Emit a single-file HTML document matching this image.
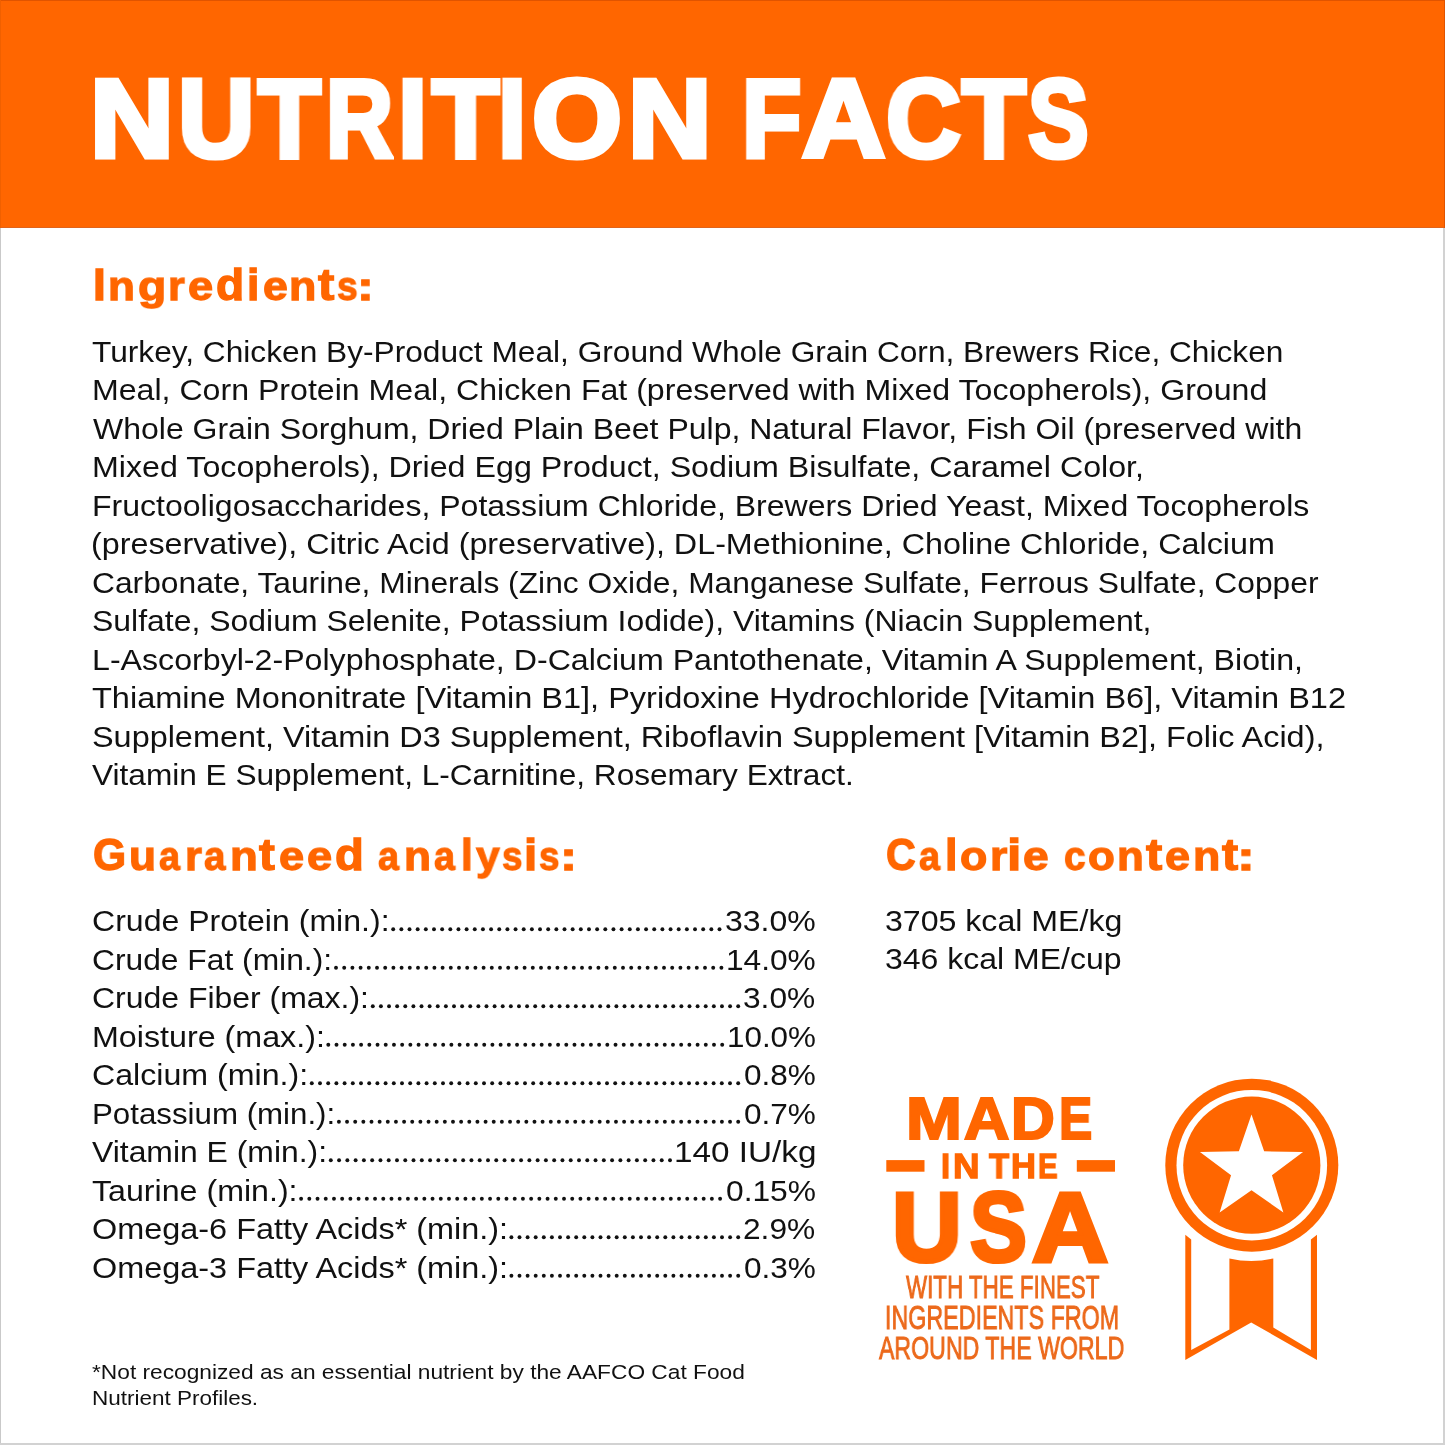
<!DOCTYPE html>
<html><head><meta charset="utf-8"><title>Nutrition Facts</title>
<style>
html,body{margin:0;padding:0;background:#fff}
body{width:1445px;height:1445px;position:relative;overflow:hidden;font-family:"Liberation Sans",sans-serif}
.banner{position:absolute;left:0;top:0;width:1445px;height:228px;background:#ff6600}
.t{position:absolute;white-space:nowrap;line-height:1;transform-origin:0 0;will-change:transform}
.ov{position:absolute;left:0;top:0}
.bl{position:absolute;left:0;top:228px;width:1px;height:1217px;background:#c9c9c9}
.br{position:absolute;right:0;top:228px;width:2px;height:1217px;background:#d2d2d2}
.bb{position:absolute;left:0;bottom:0;width:1445px;height:2px;background:#d2d2d2}
.bt{position:absolute;left:0;top:0;width:1445px;height:1px;background:#e05400}
.bro{position:absolute;right:0;top:0;width:1px;height:228px;background:#e05400}
.bbo{position:absolute;left:0;top:227px;width:1445px;height:1px;background:#e0641c}
.blo{position:absolute;left:0;top:0;width:1px;height:228px;background:#f06000}
</style></head><body>
<div class="banner"></div>
<div class="bt"></div><div class="bbo"></div><div class="bro"></div><div class="blo"></div>
<div class="t" style="left:89.86px;top:64.40px;font-size:111px;font-weight:700;color:#ffffff;-webkit-text-stroke:5.2px #ffffff;transform:scale(1.0459,1);">N</div>
<div class="t" style="left:178.00px;top:64.40px;font-size:111px;font-weight:700;color:#ffffff;-webkit-text-stroke:5.2px #ffffff;transform:scale(0.9539,1);">U</div>
<div class="t" style="left:258.45px;top:64.40px;font-size:111px;font-weight:700;color:#ffffff;-webkit-text-stroke:5.2px #ffffff;transform:scale(0.9255,1);">T</div>
<div class="t" style="left:325.67px;top:64.40px;font-size:111px;font-weight:700;color:#ffffff;-webkit-text-stroke:5.2px #ffffff;transform:scale(0.8362,1);">R</div>
<div class="t" style="left:398.45px;top:64.40px;font-size:111px;font-weight:700;color:#ffffff;-webkit-text-stroke:5.2px #ffffff;transform:scale(0.9443,1);">I</div>
<div class="t" style="left:431.53px;top:64.40px;font-size:111px;font-weight:700;color:#ffffff;-webkit-text-stroke:5.2px #ffffff;transform:scale(0.9893,1);">T</div>
<div class="t" style="left:498.31px;top:64.40px;font-size:111px;font-weight:700;color:#ffffff;-webkit-text-stroke:5.2px #ffffff;transform:scale(0.9112,1);">I</div>
<div class="t" style="left:532.41px;top:64.40px;font-size:111px;font-weight:700;color:#ffffff;-webkit-text-stroke:5.2px #ffffff;transform:scale(1.0432,1);">O</div>
<div class="t" style="left:627.78px;top:64.40px;font-size:111px;font-weight:700;color:#ffffff;-webkit-text-stroke:5.2px #ffffff;transform:scale(1.0417,1);">N</div>
<div class="t" style="left:742.38px;top:64.40px;font-size:111px;font-weight:700;color:#ffffff;-webkit-text-stroke:5.2px #ffffff;transform:scale(0.8747,1);">F</div>
<div class="t" style="left:802.48px;top:64.40px;font-size:111px;font-weight:700;color:#ffffff;-webkit-text-stroke:5.2px #ffffff;transform:scale(1.0370,1);">A</div>
<div class="t" style="left:885.63px;top:64.40px;font-size:111px;font-weight:700;color:#ffffff;-webkit-text-stroke:5.2px #ffffff;transform:scale(0.9328,1);">C</div>
<div class="t" style="left:961.77px;top:64.40px;font-size:111px;font-weight:700;color:#ffffff;-webkit-text-stroke:5.2px #ffffff;transform:scale(0.9425,1);">T</div>
<div class="t" style="left:1028.09px;top:64.40px;font-size:111px;font-weight:700;color:#ffffff;-webkit-text-stroke:5.2px #ffffff;transform:scale(0.8179,1);">S</div>
<div class="t" style="left:92.81px;top:263.05px;font-size:44px;font-weight:700;color:#ff6600;-webkit-text-stroke:1.3px #ff6600;transform:scale(1.0456,1);">I</div>
<div class="t" style="left:108.32px;top:263.05px;font-size:44px;font-weight:700;color:#ff6600;-webkit-text-stroke:1.3px #ff6600;transform:scale(0.9985,0.91);transform-origin:0 37.00px;">n</div>
<div class="t" style="left:137.97px;top:263.05px;font-size:44px;font-weight:700;color:#ff6600;-webkit-text-stroke:1.3px #ff6600;transform:scale(1.0520,0.91);transform-origin:0 37.00px;">g</div>
<div class="t" style="left:168.07px;top:263.05px;font-size:44px;font-weight:700;color:#ff6600;-webkit-text-stroke:1.3px #ff6600;transform:scale(0.9787,0.91);transform-origin:0 37.00px;">r</div>
<div class="t" style="left:187.68px;top:263.05px;font-size:44px;font-weight:700;color:#ff6600;-webkit-text-stroke:1.3px #ff6600;transform:scale(1.0271,0.91);transform-origin:0 37.00px;">e</div>
<div class="t" style="left:215.66px;top:263.05px;font-size:44px;font-weight:700;color:#ff6600;-webkit-text-stroke:1.3px #ff6600;transform:scale(1.0468,1);">d</div>
<div class="t" style="left:246.94px;top:263.05px;font-size:44px;font-weight:700;color:#ff6600;-webkit-text-stroke:1.3px #ff6600;transform:scale(1.0102,1);">i</div>
<div class="t" style="left:262.59px;top:263.05px;font-size:44px;font-weight:700;color:#ff6600;-webkit-text-stroke:1.3px #ff6600;transform:scale(1.0138,0.91);transform-origin:0 37.00px;">e</div>
<div class="t" style="left:289.28px;top:263.05px;font-size:44px;font-weight:700;color:#ff6600;-webkit-text-stroke:1.3px #ff6600;transform:scale(1.0163,0.91);transform-origin:0 37.00px;">n</div>
<div class="t" style="left:318.04px;top:263.05px;font-size:44px;font-weight:700;color:#ff6600;-webkit-text-stroke:1.3px #ff6600;transform:scale(1.1151,1);">t</div>
<div class="t" style="left:336.57px;top:263.05px;font-size:44px;font-weight:700;color:#ff6600;-webkit-text-stroke:1.3px #ff6600;transform:scale(0.8435,0.91);transform-origin:0 37.00px;">s</div>
<div class="t" style="left:357.18px;top:263.05px;font-size:44px;font-weight:700;color:#ff6600;-webkit-text-stroke:1.3px #ff6600;transform:scale(1.1494,0.91);transform-origin:0 37.00px;">:</div>
<div class="t" style="left:93.08px;top:833.05px;font-size:44px;font-weight:700;color:#ff6600;-webkit-text-stroke:1.3px #ff6600;transform:scale(0.9650,1);">G</div>
<div class="t" style="left:128.52px;top:833.05px;font-size:44px;font-weight:700;color:#ff6600;-webkit-text-stroke:1.3px #ff6600;transform:scale(1.0045,0.91);transform-origin:0 37.00px;">u</div>
<div class="t" style="left:159.11px;top:833.05px;font-size:44px;font-weight:700;color:#ff6600;-webkit-text-stroke:1.3px #ff6600;transform:scale(0.8545,0.91);transform-origin:0 37.00px;">a</div>
<div class="t" style="left:184.55px;top:833.05px;font-size:44px;font-weight:700;color:#ff6600;-webkit-text-stroke:1.3px #ff6600;transform:scale(0.9854,0.91);transform-origin:0 37.00px;">r</div>
<div class="t" style="left:203.79px;top:833.05px;font-size:44px;font-weight:700;color:#ff6600;-webkit-text-stroke:1.3px #ff6600;transform:scale(0.8747,0.91);transform-origin:0 37.00px;">a</div>
<div class="t" style="left:229.94px;top:833.05px;font-size:44px;font-weight:700;color:#ff6600;-webkit-text-stroke:1.3px #ff6600;transform:scale(1.0340,0.91);transform-origin:0 37.00px;">n</div>
<div class="t" style="left:259.23px;top:833.05px;font-size:44px;font-weight:700;color:#ff6600;-webkit-text-stroke:1.3px #ff6600;transform:scale(1.0815,1);">t</div>
<div class="t" style="left:278.58px;top:833.05px;font-size:44px;font-weight:700;color:#ff6600;-webkit-text-stroke:1.3px #ff6600;transform:scale(1.0271,0.91);transform-origin:0 37.00px;">e</div>
<div class="t" style="left:306.68px;top:833.05px;font-size:44px;font-weight:700;color:#ff6600;-webkit-text-stroke:1.3px #ff6600;transform:scale(1.0271,0.91);transform-origin:0 37.00px;">e</div>
<div class="t" style="left:335.13px;top:833.05px;font-size:44px;font-weight:700;color:#ff6600;-webkit-text-stroke:1.3px #ff6600;transform:scale(1.0725,1);">d</div>
<div class="t" style="left:378.41px;top:833.05px;font-size:44px;font-weight:700;color:#ff6600;-webkit-text-stroke:1.3px #ff6600;transform:scale(0.8545,0.91);transform-origin:0 37.00px;">a</div>
<div class="t" style="left:403.81px;top:833.05px;font-size:44px;font-weight:700;color:#ff6600;-webkit-text-stroke:1.3px #ff6600;transform:scale(1.0030,0.91);transform-origin:0 37.00px;">n</div>
<div class="t" style="left:434.11px;top:833.05px;font-size:44px;font-weight:700;color:#ff6600;-webkit-text-stroke:1.3px #ff6600;transform:scale(0.8545,0.91);transform-origin:0 37.00px;">a</div>
<div class="t" style="left:460.97px;top:833.05px;font-size:44px;font-weight:700;color:#ff6600;-webkit-text-stroke:1.3px #ff6600;transform:scale(0.9556,1);">l</div>
<div class="t" style="left:475.73px;top:833.05px;font-size:44px;font-weight:700;color:#ff6600;-webkit-text-stroke:1.3px #ff6600;transform:scale(0.9696,0.91);transform-origin:0 37.00px;">y</div>
<div class="t" style="left:502.08px;top:833.05px;font-size:44px;font-weight:700;color:#ff6600;-webkit-text-stroke:1.3px #ff6600;transform:scale(0.8345,0.91);transform-origin:0 37.00px;">s</div>
<div class="t" style="left:524.07px;top:833.05px;font-size:44px;font-weight:700;color:#ff6600;-webkit-text-stroke:1.3px #ff6600;transform:scale(1.0784,1);">i</div>
<div class="t" style="left:539.08px;top:833.05px;font-size:44px;font-weight:700;color:#ff6600;-webkit-text-stroke:1.3px #ff6600;transform:scale(0.8345,0.91);transform-origin:0 37.00px;">s</div>
<div class="t" style="left:559.53px;top:833.05px;font-size:44px;font-weight:700;color:#ff6600;-webkit-text-stroke:1.3px #ff6600;transform:scale(1.1627,0.91);transform-origin:0 37.00px;">:</div>
<div class="t" style="left:886.41px;top:833.05px;font-size:44px;font-weight:700;color:#ff6600;-webkit-text-stroke:1.3px #ff6600;transform:scale(0.9365,1);">C</div>
<div class="t" style="left:919.01px;top:833.05px;font-size:44px;font-weight:700;color:#ff6600;-webkit-text-stroke:1.3px #ff6600;transform:scale(0.8545,0.91);transform-origin:0 37.00px;">a</div>
<div class="t" style="left:945.20px;top:833.05px;font-size:44px;font-weight:700;color:#ff6600;-webkit-text-stroke:1.3px #ff6600;transform:scale(1.0238,1);">l</div>
<div class="t" style="left:960.19px;top:833.05px;font-size:44px;font-weight:700;color:#ff6600;-webkit-text-stroke:1.3px #ff6600;transform:scale(1.0172,0.91);transform-origin:0 37.00px;">o</div>
<div class="t" style="left:989.59px;top:833.05px;font-size:44px;font-weight:700;color:#ff6600;-webkit-text-stroke:1.3px #ff6600;transform:scale(1.0124,0.91);transform-origin:0 37.00px;">r</div>
<div class="t" style="left:1007.04px;top:833.05px;font-size:44px;font-weight:700;color:#ff6600;-webkit-text-stroke:1.3px #ff6600;transform:scale(1.1740,1);">i</div>
<div class="t" style="left:1022.86px;top:833.05px;font-size:44px;font-weight:700;color:#ff6600;-webkit-text-stroke:1.3px #ff6600;transform:scale(1.0493,0.91);transform-origin:0 37.00px;">e</div>
<div class="t" style="left:1063.75px;top:833.05px;font-size:44px;font-weight:700;color:#ff6600;-webkit-text-stroke:1.3px #ff6600;transform:scale(0.8834,0.91);transform-origin:0 37.00px;">c</div>
<div class="t" style="left:1088.21px;top:833.05px;font-size:44px;font-weight:700;color:#ff6600;-webkit-text-stroke:1.3px #ff6600;transform:scale(0.9970,0.91);transform-origin:0 37.00px;">o</div>
<div class="t" style="left:1117.13px;top:833.05px;font-size:44px;font-weight:700;color:#ff6600;-webkit-text-stroke:1.3px #ff6600;transform:scale(0.9941,0.91);transform-origin:0 37.00px;">n</div>
<div class="t" style="left:1146.33px;top:833.05px;font-size:44px;font-weight:700;color:#ff6600;-webkit-text-stroke:1.3px #ff6600;transform:scale(1.1084,1);">t</div>
<div class="t" style="left:1164.99px;top:833.05px;font-size:44px;font-weight:700;color:#ff6600;-webkit-text-stroke:1.3px #ff6600;transform:scale(1.0227,0.91);transform-origin:0 37.00px;">e</div>
<div class="t" style="left:1192.78px;top:833.05px;font-size:44px;font-weight:700;color:#ff6600;-webkit-text-stroke:1.3px #ff6600;transform:scale(1.0163,0.91);transform-origin:0 37.00px;">n</div>
<div class="t" style="left:1221.63px;top:833.05px;font-size:44px;font-weight:700;color:#ff6600;-webkit-text-stroke:1.3px #ff6600;transform:scale(1.1017,1);">t</div>
<div class="t" style="left:1237.44px;top:833.05px;font-size:44px;font-weight:700;color:#ff6600;-webkit-text-stroke:1.3px #ff6600;transform:scale(1.2162,0.91);transform-origin:0 37.00px;">:</div>
<div class="t" style="left:91.79px;top:336.60px;font-size:30px;font-weight:400;color:#111111;transform:scale(1.0555,1);">Turkey, Chicken By-Product Meal, Ground Whole Grain Corn, Brewers Rice, Chicken</div>
<div class="t" style="left:91.95px;top:375.12px;font-size:30px;font-weight:400;color:#111111;transform:scale(1.0701,1);">Meal, Corn Protein Meal, Chicken Fat (preserved with Mixed Tocopherols), Ground</div>
<div class="t" style="left:92.99px;top:413.64px;font-size:30px;font-weight:400;color:#111111;transform:scale(1.0665,1);">Whole Grain Sorghum, Dried Plain Beet Pulp, Natural Flavor, Fish Oil (preserved with</div>
<div class="t" style="left:91.94px;top:452.16px;font-size:30px;font-weight:400;color:#111111;transform:scale(1.0736,1);">Mixed Tocopherols), Dried Egg Product, Sodium Bisulfate, Caramel Color,</div>
<div class="t" style="left:91.95px;top:490.68px;font-size:30px;font-weight:400;color:#111111;transform:scale(1.0678,1);">Fructooligosaccharides, Potassium Chloride, Brewers Dried Yeast, Mixed Tocopherols</div>
<div class="t" style="left:91.26px;top:529.20px;font-size:30px;font-weight:400;color:#111111;transform:scale(1.0758,1);">(preservative), Citric Acid (preservative), DL-Methionine, Choline Chloride, Calcium</div>
<div class="t" style="left:91.91px;top:567.72px;font-size:30px;font-weight:400;color:#111111;transform:scale(1.0588,1);">Carbonate, Taurine, Minerals (Zinc Oxide, Manganese Sulfate, Ferrous Sulfate, Copper</div>
<div class="t" style="left:91.60px;top:606.24px;font-size:30px;font-weight:400;color:#111111;transform:scale(1.0648,1);">Sulfate, Sodium Selenite, Potassium Iodide), Vitamins (Niacin Supplement,</div>
<div class="t" style="left:91.94px;top:644.76px;font-size:30px;font-weight:400;color:#111111;transform:scale(1.0716,1);">L-Ascorbyl-2-Polyphosphate, D-Calcium Pantothenate, Vitamin A Supplement, Biotin,</div>
<div class="t" style="left:91.77px;top:683.28px;font-size:30px;font-weight:400;color:#111111;transform:scale(1.0836,1);">Thiamine Mononitrate [Vitamin B1], Pyridoxine Hydrochloride [Vitamin B6], Vitamin B12</div>
<div class="t" style="left:91.58px;top:721.80px;font-size:30px;font-weight:400;color:#111111;transform:scale(1.0800,1);">Supplement, Vitamin D3 Supplement, Riboflavin Supplement [Vitamin B2], Folic Acid),</div>
<div class="t" style="left:92.13px;top:760.32px;font-size:30px;font-weight:400;color:#111111;transform:scale(1.0535,1);">Vitamin E Supplement, L-Carnitine, Rosemary Extract.</div>
<div class="t" style="left:92.10px;top:906.00px;font-size:30px;font-weight:400;color:#111111;transform:scale(1.0687,1);">Crude Protein (min.):</div>
<div class="t" style="left:724.74px;top:906.00px;font-size:30px;font-weight:400;color:#111111;transform:scale(1.0675,1);">33.0%</div>
<div class="t" style="left:92.11px;top:944.50px;font-size:30px;font-weight:400;color:#111111;transform:scale(1.0589,1);">Crude Fat (min.):</div>
<div class="t" style="left:725.77px;top:944.50px;font-size:30px;font-weight:400;color:#111111;transform:scale(1.0553,1);">14.0%</div>
<div class="t" style="left:92.10px;top:983.00px;font-size:30px;font-weight:400;color:#111111;transform:scale(1.0651,1);">Crude Fiber (max.):</div>
<div class="t" style="left:743.46px;top:983.00px;font-size:30px;font-weight:400;color:#111111;transform:scale(1.0552,1);">3.0%</div>
<div class="t" style="left:91.94px;top:1021.50px;font-size:30px;font-weight:400;color:#111111;transform:scale(1.0745,1);">Moisture (max.):</div>
<div class="t" style="left:726.60px;top:1021.50px;font-size:30px;font-weight:400;color:#111111;transform:scale(1.0455,1);">10.0%</div>
<div class="t" style="left:92.09px;top:1060.00px;font-size:30px;font-weight:400;color:#111111;transform:scale(1.0718,1);">Calcium (min.):</div>
<div class="t" style="left:743.72px;top:1060.00px;font-size:30px;font-weight:400;color:#111111;transform:scale(1.0513,1);">0.8%</div>
<div class="t" style="left:92.02px;top:1098.50px;font-size:30px;font-weight:400;color:#111111;transform:scale(1.0421,1);">Potassium (min.):</div>
<div class="t" style="left:743.72px;top:1098.50px;font-size:30px;font-weight:400;color:#111111;transform:scale(1.0513,1);">0.7%</div>
<div class="t" style="left:92.12px;top:1137.00px;font-size:30px;font-weight:400;color:#111111;transform:scale(1.0629,1);">Vitamin E (min.):</div>
<div class="t" style="left:674.25px;top:1137.00px;font-size:30px;font-weight:400;color:#111111;transform:scale(1.1091,1);">140 IU/kg</div>
<div class="t" style="left:91.78px;top:1175.50px;font-size:30px;font-weight:400;color:#111111;transform:scale(1.0721,1);">Taurine (min.):</div>
<div class="t" style="left:725.61px;top:1175.50px;font-size:30px;font-weight:400;color:#111111;transform:scale(1.0572,1);">0.15%</div>
<div class="t" style="left:91.69px;top:1214.00px;font-size:30px;font-weight:400;color:#111111;transform:scale(1.0805,1);">Omega-6 Fatty Acids* (min.):</div>
<div class="t" style="left:743.39px;top:1214.00px;font-size:30px;font-weight:400;color:#111111;transform:scale(1.0562,1);">2.9%</div>
<div class="t" style="left:91.69px;top:1252.50px;font-size:30px;font-weight:400;color:#111111;transform:scale(1.0805,1);">Omega-3 Fatty Acids* (min.):</div>
<div class="t" style="left:743.72px;top:1252.50px;font-size:30px;font-weight:400;color:#111111;transform:scale(1.0513,1);">0.3%</div>
<div class="t" style="left:885.44px;top:905.50px;font-size:30px;font-weight:400;color:#111111;transform:scale(1.0699,1);">3705 kcal ME/kg</div>
<div class="t" style="left:885.44px;top:944.00px;font-size:30px;font-weight:400;color:#111111;transform:scale(1.0667,1);">346 kcal ME/cup</div>
<div class="t" style="left:906.16px;top:1090.00px;font-size:59px;font-weight:700;color:#ff6600;-webkit-text-stroke:2.2px #ff6600;transform:scale(1.1370,1);">M</div>
<div class="t" style="left:963.58px;top:1090.00px;font-size:59px;font-weight:700;color:#ff6600;-webkit-text-stroke:2.2px #ff6600;transform:scale(1.0641,1);">A</div>
<div class="t" style="left:1011.27px;top:1090.00px;font-size:59px;font-weight:700;color:#ff6600;-webkit-text-stroke:2.2px #ff6600;transform:scale(1.0278,1);">D</div>
<div class="t" style="left:1058.79px;top:1090.00px;font-size:59px;font-weight:700;color:#ff6600;-webkit-text-stroke:2.2px #ff6600;transform:scale(0.8443,1);">E</div>
<div class="t" style="left:941.04px;top:1148.85px;font-size:34.5px;font-weight:700;color:#ff6600;-webkit-text-stroke:1.3px #ff6600;transform:scale(0.9403,1);">I</div>
<div class="t" style="left:952.53px;top:1148.85px;font-size:34.5px;font-weight:700;color:#ff6600;-webkit-text-stroke:1.3px #ff6600;transform:scale(1.0658,1);">N</div>
<div class="t" style="left:989.25px;top:1148.85px;font-size:34.5px;font-weight:700;color:#ff6600;-webkit-text-stroke:1.3px #ff6600;transform:scale(0.9580,1);">T</div>
<div class="t" style="left:1011.17px;top:1148.85px;font-size:34.5px;font-weight:700;color:#ff6600;-webkit-text-stroke:1.3px #ff6600;transform:scale(0.9824,1);">H</div>
<div class="t" style="left:1038.38px;top:1148.85px;font-size:34.5px;font-weight:700;color:#ff6600;-webkit-text-stroke:1.3px #ff6600;transform:scale(0.8527,1);">E</div>
<div class="t" style="left:891.55px;top:1177.40px;font-size:99px;font-weight:700;color:#ff6600;-webkit-text-stroke:4.2px #ff6600;transform:scale(0.9750,1);">U</div>
<div class="t" style="left:969.73px;top:1177.40px;font-size:99px;font-weight:700;color:#ff6600;-webkit-text-stroke:4.2px #ff6600;transform:scale(0.8605,1);">S</div>
<div class="t" style="left:1031.64px;top:1177.40px;font-size:99px;font-weight:700;color:#ff6600;-webkit-text-stroke:4.2px #ff6600;transform:scale(1.0653,1);">A</div>
<div class="t" style="left:906.13px;top:1271.25px;font-size:32px;font-weight:400;color:#ec6a1c;-webkit-text-stroke:0.9px #ec6a1c;transform:scale(0.6989,1);">WITH THE FINEST</div>
<div class="t" style="left:884.87px;top:1301.85px;font-size:32.5px;font-weight:400;color:#ec6a1c;-webkit-text-stroke:0.9px #ec6a1c;transform:scale(0.7162,1);">INGREDIENTS FROM</div>
<div class="t" style="left:879.18px;top:1331.55px;font-size:32px;font-weight:400;color:#ec6a1c;-webkit-text-stroke:0.9px #ec6a1c;transform:scale(0.7235,1);">AROUND THE WORLD</div>
<div class="t" style="left:92.32px;top:1361.80px;font-size:20.5px;font-weight:400;color:#111111;transform:scale(1.1081,1);">*Not recognized as an essential nutrient by the AAFCO Cat Food</div>
<div class="t" style="left:92.05px;top:1388.10px;font-size:20.5px;font-weight:400;color:#111111;transform:scale(1.0962,1);">Nutrient Profiles.</div>
<svg class="ov" width="1445" height="1445" viewBox="0 0 1445 1445">
<g fill="#111"><circle cx="393.20" cy="929.30" r="1.95"/><circle cx="401.36" cy="929.30" r="1.95"/><circle cx="409.52" cy="929.30" r="1.95"/><circle cx="417.67" cy="929.30" r="1.95"/><circle cx="425.83" cy="929.30" r="1.95"/><circle cx="433.99" cy="929.30" r="1.95"/><circle cx="442.15" cy="929.30" r="1.95"/><circle cx="450.30" cy="929.30" r="1.95"/><circle cx="458.46" cy="929.30" r="1.95"/><circle cx="466.62" cy="929.30" r="1.95"/><circle cx="474.78" cy="929.30" r="1.95"/><circle cx="482.93" cy="929.30" r="1.95"/><circle cx="491.09" cy="929.30" r="1.95"/><circle cx="499.25" cy="929.30" r="1.95"/><circle cx="507.41" cy="929.30" r="1.95"/><circle cx="515.56" cy="929.30" r="1.95"/><circle cx="523.72" cy="929.30" r="1.95"/><circle cx="531.88" cy="929.30" r="1.95"/><circle cx="540.04" cy="929.30" r="1.95"/><circle cx="548.19" cy="929.30" r="1.95"/><circle cx="556.35" cy="929.30" r="1.95"/><circle cx="564.51" cy="929.30" r="1.95"/><circle cx="572.66" cy="929.30" r="1.95"/><circle cx="580.82" cy="929.30" r="1.95"/><circle cx="588.98" cy="929.30" r="1.95"/><circle cx="597.14" cy="929.30" r="1.95"/><circle cx="605.30" cy="929.30" r="1.95"/><circle cx="613.45" cy="929.30" r="1.95"/><circle cx="621.61" cy="929.30" r="1.95"/><circle cx="629.77" cy="929.30" r="1.95"/><circle cx="637.92" cy="929.30" r="1.95"/><circle cx="646.08" cy="929.30" r="1.95"/><circle cx="654.24" cy="929.30" r="1.95"/><circle cx="662.40" cy="929.30" r="1.95"/><circle cx="670.56" cy="929.30" r="1.95"/><circle cx="678.71" cy="929.30" r="1.95"/><circle cx="686.87" cy="929.30" r="1.95"/><circle cx="695.03" cy="929.30" r="1.95"/><circle cx="703.18" cy="929.30" r="1.95"/><circle cx="711.34" cy="929.30" r="1.95"/><circle cx="719.50" cy="929.30" r="1.95"/><circle cx="336.00" cy="967.80" r="1.95"/><circle cx="344.20" cy="967.80" r="1.95"/><circle cx="352.40" cy="967.80" r="1.95"/><circle cx="360.60" cy="967.80" r="1.95"/><circle cx="368.80" cy="967.80" r="1.95"/><circle cx="377.00" cy="967.80" r="1.95"/><circle cx="385.20" cy="967.80" r="1.95"/><circle cx="393.40" cy="967.80" r="1.95"/><circle cx="401.60" cy="967.80" r="1.95"/><circle cx="409.80" cy="967.80" r="1.95"/><circle cx="418.00" cy="967.80" r="1.95"/><circle cx="426.20" cy="967.80" r="1.95"/><circle cx="434.40" cy="967.80" r="1.95"/><circle cx="442.60" cy="967.80" r="1.95"/><circle cx="450.80" cy="967.80" r="1.95"/><circle cx="459.00" cy="967.80" r="1.95"/><circle cx="467.20" cy="967.80" r="1.95"/><circle cx="475.40" cy="967.80" r="1.95"/><circle cx="483.60" cy="967.80" r="1.95"/><circle cx="491.80" cy="967.80" r="1.95"/><circle cx="500.00" cy="967.80" r="1.95"/><circle cx="508.20" cy="967.80" r="1.95"/><circle cx="516.40" cy="967.80" r="1.95"/><circle cx="524.60" cy="967.80" r="1.95"/><circle cx="532.80" cy="967.80" r="1.95"/><circle cx="541.00" cy="967.80" r="1.95"/><circle cx="549.20" cy="967.80" r="1.95"/><circle cx="557.40" cy="967.80" r="1.95"/><circle cx="565.60" cy="967.80" r="1.95"/><circle cx="573.80" cy="967.80" r="1.95"/><circle cx="582.00" cy="967.80" r="1.95"/><circle cx="590.20" cy="967.80" r="1.95"/><circle cx="598.40" cy="967.80" r="1.95"/><circle cx="606.60" cy="967.80" r="1.95"/><circle cx="614.80" cy="967.80" r="1.95"/><circle cx="623.00" cy="967.80" r="1.95"/><circle cx="631.20" cy="967.80" r="1.95"/><circle cx="639.40" cy="967.80" r="1.95"/><circle cx="647.60" cy="967.80" r="1.95"/><circle cx="655.80" cy="967.80" r="1.95"/><circle cx="664.00" cy="967.80" r="1.95"/><circle cx="672.20" cy="967.80" r="1.95"/><circle cx="680.40" cy="967.80" r="1.95"/><circle cx="688.60" cy="967.80" r="1.95"/><circle cx="696.80" cy="967.80" r="1.95"/><circle cx="705.00" cy="967.80" r="1.95"/><circle cx="713.20" cy="967.80" r="1.95"/><circle cx="721.40" cy="967.80" r="1.95"/><circle cx="372.80" cy="1006.30" r="1.95"/><circle cx="380.92" cy="1006.30" r="1.95"/><circle cx="389.04" cy="1006.30" r="1.95"/><circle cx="397.16" cy="1006.30" r="1.95"/><circle cx="405.28" cy="1006.30" r="1.95"/><circle cx="413.40" cy="1006.30" r="1.95"/><circle cx="421.52" cy="1006.30" r="1.95"/><circle cx="429.64" cy="1006.30" r="1.95"/><circle cx="437.76" cy="1006.30" r="1.95"/><circle cx="445.88" cy="1006.30" r="1.95"/><circle cx="454.00" cy="1006.30" r="1.95"/><circle cx="462.12" cy="1006.30" r="1.95"/><circle cx="470.24" cy="1006.30" r="1.95"/><circle cx="478.36" cy="1006.30" r="1.95"/><circle cx="486.48" cy="1006.30" r="1.95"/><circle cx="494.60" cy="1006.30" r="1.95"/><circle cx="502.72" cy="1006.30" r="1.95"/><circle cx="510.84" cy="1006.30" r="1.95"/><circle cx="518.96" cy="1006.30" r="1.95"/><circle cx="527.08" cy="1006.30" r="1.95"/><circle cx="535.20" cy="1006.30" r="1.95"/><circle cx="543.32" cy="1006.30" r="1.95"/><circle cx="551.44" cy="1006.30" r="1.95"/><circle cx="559.56" cy="1006.30" r="1.95"/><circle cx="567.68" cy="1006.30" r="1.95"/><circle cx="575.80" cy="1006.30" r="1.95"/><circle cx="583.92" cy="1006.30" r="1.95"/><circle cx="592.04" cy="1006.30" r="1.95"/><circle cx="600.16" cy="1006.30" r="1.95"/><circle cx="608.28" cy="1006.30" r="1.95"/><circle cx="616.40" cy="1006.30" r="1.95"/><circle cx="624.52" cy="1006.30" r="1.95"/><circle cx="632.64" cy="1006.30" r="1.95"/><circle cx="640.76" cy="1006.30" r="1.95"/><circle cx="648.88" cy="1006.30" r="1.95"/><circle cx="657.00" cy="1006.30" r="1.95"/><circle cx="665.12" cy="1006.30" r="1.95"/><circle cx="673.24" cy="1006.30" r="1.95"/><circle cx="681.36" cy="1006.30" r="1.95"/><circle cx="689.48" cy="1006.30" r="1.95"/><circle cx="697.60" cy="1006.30" r="1.95"/><circle cx="705.72" cy="1006.30" r="1.95"/><circle cx="713.84" cy="1006.30" r="1.95"/><circle cx="721.96" cy="1006.30" r="1.95"/><circle cx="730.08" cy="1006.30" r="1.95"/><circle cx="738.20" cy="1006.30" r="1.95"/><circle cx="328.30" cy="1044.80" r="1.95"/><circle cx="336.51" cy="1044.80" r="1.95"/><circle cx="344.71" cy="1044.80" r="1.95"/><circle cx="352.92" cy="1044.80" r="1.95"/><circle cx="361.12" cy="1044.80" r="1.95"/><circle cx="369.33" cy="1044.80" r="1.95"/><circle cx="377.54" cy="1044.80" r="1.95"/><circle cx="385.74" cy="1044.80" r="1.95"/><circle cx="393.95" cy="1044.80" r="1.95"/><circle cx="402.16" cy="1044.80" r="1.95"/><circle cx="410.36" cy="1044.80" r="1.95"/><circle cx="418.57" cy="1044.80" r="1.95"/><circle cx="426.78" cy="1044.80" r="1.95"/><circle cx="434.98" cy="1044.80" r="1.95"/><circle cx="443.19" cy="1044.80" r="1.95"/><circle cx="451.39" cy="1044.80" r="1.95"/><circle cx="459.60" cy="1044.80" r="1.95"/><circle cx="467.81" cy="1044.80" r="1.95"/><circle cx="476.01" cy="1044.80" r="1.95"/><circle cx="484.22" cy="1044.80" r="1.95"/><circle cx="492.43" cy="1044.80" r="1.95"/><circle cx="500.63" cy="1044.80" r="1.95"/><circle cx="508.84" cy="1044.80" r="1.95"/><circle cx="517.04" cy="1044.80" r="1.95"/><circle cx="525.25" cy="1044.80" r="1.95"/><circle cx="533.46" cy="1044.80" r="1.95"/><circle cx="541.66" cy="1044.80" r="1.95"/><circle cx="549.87" cy="1044.80" r="1.95"/><circle cx="558.08" cy="1044.80" r="1.95"/><circle cx="566.28" cy="1044.80" r="1.95"/><circle cx="574.49" cy="1044.80" r="1.95"/><circle cx="582.69" cy="1044.80" r="1.95"/><circle cx="590.90" cy="1044.80" r="1.95"/><circle cx="599.11" cy="1044.80" r="1.95"/><circle cx="607.31" cy="1044.80" r="1.95"/><circle cx="615.52" cy="1044.80" r="1.95"/><circle cx="623.73" cy="1044.80" r="1.95"/><circle cx="631.93" cy="1044.80" r="1.95"/><circle cx="640.14" cy="1044.80" r="1.95"/><circle cx="648.34" cy="1044.80" r="1.95"/><circle cx="656.55" cy="1044.80" r="1.95"/><circle cx="664.76" cy="1044.80" r="1.95"/><circle cx="672.96" cy="1044.80" r="1.95"/><circle cx="681.17" cy="1044.80" r="1.95"/><circle cx="689.38" cy="1044.80" r="1.95"/><circle cx="697.58" cy="1044.80" r="1.95"/><circle cx="705.79" cy="1044.80" r="1.95"/><circle cx="713.99" cy="1044.80" r="1.95"/><circle cx="722.20" cy="1044.80" r="1.95"/><circle cx="311.80" cy="1083.30" r="1.95"/><circle cx="320.00" cy="1083.30" r="1.95"/><circle cx="328.20" cy="1083.30" r="1.95"/><circle cx="336.40" cy="1083.30" r="1.95"/><circle cx="344.60" cy="1083.30" r="1.95"/><circle cx="352.80" cy="1083.30" r="1.95"/><circle cx="361.00" cy="1083.30" r="1.95"/><circle cx="369.20" cy="1083.30" r="1.95"/><circle cx="377.40" cy="1083.30" r="1.95"/><circle cx="385.60" cy="1083.30" r="1.95"/><circle cx="393.80" cy="1083.30" r="1.95"/><circle cx="402.00" cy="1083.30" r="1.95"/><circle cx="410.20" cy="1083.30" r="1.95"/><circle cx="418.40" cy="1083.30" r="1.95"/><circle cx="426.60" cy="1083.30" r="1.95"/><circle cx="434.80" cy="1083.30" r="1.95"/><circle cx="443.00" cy="1083.30" r="1.95"/><circle cx="451.20" cy="1083.30" r="1.95"/><circle cx="459.40" cy="1083.30" r="1.95"/><circle cx="467.60" cy="1083.30" r="1.95"/><circle cx="475.80" cy="1083.30" r="1.95"/><circle cx="484.00" cy="1083.30" r="1.95"/><circle cx="492.20" cy="1083.30" r="1.95"/><circle cx="500.40" cy="1083.30" r="1.95"/><circle cx="508.60" cy="1083.30" r="1.95"/><circle cx="516.80" cy="1083.30" r="1.95"/><circle cx="525.00" cy="1083.30" r="1.95"/><circle cx="533.20" cy="1083.30" r="1.95"/><circle cx="541.40" cy="1083.30" r="1.95"/><circle cx="549.60" cy="1083.30" r="1.95"/><circle cx="557.80" cy="1083.30" r="1.95"/><circle cx="566.00" cy="1083.30" r="1.95"/><circle cx="574.20" cy="1083.30" r="1.95"/><circle cx="582.40" cy="1083.30" r="1.95"/><circle cx="590.60" cy="1083.30" r="1.95"/><circle cx="598.80" cy="1083.30" r="1.95"/><circle cx="607.00" cy="1083.30" r="1.95"/><circle cx="615.20" cy="1083.30" r="1.95"/><circle cx="623.40" cy="1083.30" r="1.95"/><circle cx="631.60" cy="1083.30" r="1.95"/><circle cx="639.80" cy="1083.30" r="1.95"/><circle cx="648.00" cy="1083.30" r="1.95"/><circle cx="656.20" cy="1083.30" r="1.95"/><circle cx="664.40" cy="1083.30" r="1.95"/><circle cx="672.60" cy="1083.30" r="1.95"/><circle cx="680.80" cy="1083.30" r="1.95"/><circle cx="689.00" cy="1083.30" r="1.95"/><circle cx="697.20" cy="1083.30" r="1.95"/><circle cx="705.40" cy="1083.30" r="1.95"/><circle cx="713.60" cy="1083.30" r="1.95"/><circle cx="721.80" cy="1083.30" r="1.95"/><circle cx="730.00" cy="1083.30" r="1.95"/><circle cx="738.20" cy="1083.30" r="1.95"/><circle cx="338.90" cy="1121.80" r="1.95"/><circle cx="347.05" cy="1121.80" r="1.95"/><circle cx="355.20" cy="1121.80" r="1.95"/><circle cx="363.35" cy="1121.80" r="1.95"/><circle cx="371.50" cy="1121.80" r="1.95"/><circle cx="379.64" cy="1121.80" r="1.95"/><circle cx="387.79" cy="1121.80" r="1.95"/><circle cx="395.94" cy="1121.80" r="1.95"/><circle cx="404.09" cy="1121.80" r="1.95"/><circle cx="412.24" cy="1121.80" r="1.95"/><circle cx="420.39" cy="1121.80" r="1.95"/><circle cx="428.54" cy="1121.80" r="1.95"/><circle cx="436.69" cy="1121.80" r="1.95"/><circle cx="444.84" cy="1121.80" r="1.95"/><circle cx="452.99" cy="1121.80" r="1.95"/><circle cx="461.13" cy="1121.80" r="1.95"/><circle cx="469.28" cy="1121.80" r="1.95"/><circle cx="477.43" cy="1121.80" r="1.95"/><circle cx="485.58" cy="1121.80" r="1.95"/><circle cx="493.73" cy="1121.80" r="1.95"/><circle cx="501.88" cy="1121.80" r="1.95"/><circle cx="510.03" cy="1121.80" r="1.95"/><circle cx="518.18" cy="1121.80" r="1.95"/><circle cx="526.33" cy="1121.80" r="1.95"/><circle cx="534.48" cy="1121.80" r="1.95"/><circle cx="542.62" cy="1121.80" r="1.95"/><circle cx="550.77" cy="1121.80" r="1.95"/><circle cx="558.92" cy="1121.80" r="1.95"/><circle cx="567.07" cy="1121.80" r="1.95"/><circle cx="575.22" cy="1121.80" r="1.95"/><circle cx="583.37" cy="1121.80" r="1.95"/><circle cx="591.52" cy="1121.80" r="1.95"/><circle cx="599.67" cy="1121.80" r="1.95"/><circle cx="607.82" cy="1121.80" r="1.95"/><circle cx="615.97" cy="1121.80" r="1.95"/><circle cx="624.11" cy="1121.80" r="1.95"/><circle cx="632.26" cy="1121.80" r="1.95"/><circle cx="640.41" cy="1121.80" r="1.95"/><circle cx="648.56" cy="1121.80" r="1.95"/><circle cx="656.71" cy="1121.80" r="1.95"/><circle cx="664.86" cy="1121.80" r="1.95"/><circle cx="673.01" cy="1121.80" r="1.95"/><circle cx="681.16" cy="1121.80" r="1.95"/><circle cx="689.31" cy="1121.80" r="1.95"/><circle cx="697.46" cy="1121.80" r="1.95"/><circle cx="705.60" cy="1121.80" r="1.95"/><circle cx="713.75" cy="1121.80" r="1.95"/><circle cx="721.90" cy="1121.80" r="1.95"/><circle cx="730.05" cy="1121.80" r="1.95"/><circle cx="738.20" cy="1121.80" r="1.95"/><circle cx="330.80" cy="1160.30" r="1.95"/><circle cx="339.07" cy="1160.30" r="1.95"/><circle cx="347.35" cy="1160.30" r="1.95"/><circle cx="355.62" cy="1160.30" r="1.95"/><circle cx="363.89" cy="1160.30" r="1.95"/><circle cx="372.17" cy="1160.30" r="1.95"/><circle cx="380.44" cy="1160.30" r="1.95"/><circle cx="388.71" cy="1160.30" r="1.95"/><circle cx="396.99" cy="1160.30" r="1.95"/><circle cx="405.26" cy="1160.30" r="1.95"/><circle cx="413.53" cy="1160.30" r="1.95"/><circle cx="421.80" cy="1160.30" r="1.95"/><circle cx="430.08" cy="1160.30" r="1.95"/><circle cx="438.35" cy="1160.30" r="1.95"/><circle cx="446.62" cy="1160.30" r="1.95"/><circle cx="454.90" cy="1160.30" r="1.95"/><circle cx="463.17" cy="1160.30" r="1.95"/><circle cx="471.44" cy="1160.30" r="1.95"/><circle cx="479.72" cy="1160.30" r="1.95"/><circle cx="487.99" cy="1160.30" r="1.95"/><circle cx="496.26" cy="1160.30" r="1.95"/><circle cx="504.54" cy="1160.30" r="1.95"/><circle cx="512.81" cy="1160.30" r="1.95"/><circle cx="521.08" cy="1160.30" r="1.95"/><circle cx="529.36" cy="1160.30" r="1.95"/><circle cx="537.63" cy="1160.30" r="1.95"/><circle cx="545.90" cy="1160.30" r="1.95"/><circle cx="554.18" cy="1160.30" r="1.95"/><circle cx="562.45" cy="1160.30" r="1.95"/><circle cx="570.72" cy="1160.30" r="1.95"/><circle cx="579.00" cy="1160.30" r="1.95"/><circle cx="587.27" cy="1160.30" r="1.95"/><circle cx="595.54" cy="1160.30" r="1.95"/><circle cx="603.81" cy="1160.30" r="1.95"/><circle cx="612.09" cy="1160.30" r="1.95"/><circle cx="620.36" cy="1160.30" r="1.95"/><circle cx="628.63" cy="1160.30" r="1.95"/><circle cx="636.91" cy="1160.30" r="1.95"/><circle cx="645.18" cy="1160.30" r="1.95"/><circle cx="653.45" cy="1160.30" r="1.95"/><circle cx="661.73" cy="1160.30" r="1.95"/><circle cx="670.00" cy="1160.30" r="1.95"/><circle cx="301.10" cy="1198.80" r="1.95"/><circle cx="309.32" cy="1198.80" r="1.95"/><circle cx="317.53" cy="1198.80" r="1.95"/><circle cx="325.75" cy="1198.80" r="1.95"/><circle cx="333.96" cy="1198.80" r="1.95"/><circle cx="342.18" cy="1198.80" r="1.95"/><circle cx="350.39" cy="1198.80" r="1.95"/><circle cx="358.61" cy="1198.80" r="1.95"/><circle cx="366.83" cy="1198.80" r="1.95"/><circle cx="375.04" cy="1198.80" r="1.95"/><circle cx="383.26" cy="1198.80" r="1.95"/><circle cx="391.47" cy="1198.80" r="1.95"/><circle cx="399.69" cy="1198.80" r="1.95"/><circle cx="407.90" cy="1198.80" r="1.95"/><circle cx="416.12" cy="1198.80" r="1.95"/><circle cx="424.34" cy="1198.80" r="1.95"/><circle cx="432.55" cy="1198.80" r="1.95"/><circle cx="440.77" cy="1198.80" r="1.95"/><circle cx="448.98" cy="1198.80" r="1.95"/><circle cx="457.20" cy="1198.80" r="1.95"/><circle cx="465.41" cy="1198.80" r="1.95"/><circle cx="473.63" cy="1198.80" r="1.95"/><circle cx="481.85" cy="1198.80" r="1.95"/><circle cx="490.06" cy="1198.80" r="1.95"/><circle cx="498.28" cy="1198.80" r="1.95"/><circle cx="506.49" cy="1198.80" r="1.95"/><circle cx="514.71" cy="1198.80" r="1.95"/><circle cx="522.92" cy="1198.80" r="1.95"/><circle cx="531.14" cy="1198.80" r="1.95"/><circle cx="539.35" cy="1198.80" r="1.95"/><circle cx="547.57" cy="1198.80" r="1.95"/><circle cx="555.79" cy="1198.80" r="1.95"/><circle cx="564.00" cy="1198.80" r="1.95"/><circle cx="572.22" cy="1198.80" r="1.95"/><circle cx="580.43" cy="1198.80" r="1.95"/><circle cx="588.65" cy="1198.80" r="1.95"/><circle cx="596.86" cy="1198.80" r="1.95"/><circle cx="605.08" cy="1198.80" r="1.95"/><circle cx="613.30" cy="1198.80" r="1.95"/><circle cx="621.51" cy="1198.80" r="1.95"/><circle cx="629.73" cy="1198.80" r="1.95"/><circle cx="637.94" cy="1198.80" r="1.95"/><circle cx="646.16" cy="1198.80" r="1.95"/><circle cx="654.37" cy="1198.80" r="1.95"/><circle cx="662.59" cy="1198.80" r="1.95"/><circle cx="670.81" cy="1198.80" r="1.95"/><circle cx="679.02" cy="1198.80" r="1.95"/><circle cx="687.24" cy="1198.80" r="1.95"/><circle cx="695.45" cy="1198.80" r="1.95"/><circle cx="703.67" cy="1198.80" r="1.95"/><circle cx="711.88" cy="1198.80" r="1.95"/><circle cx="720.10" cy="1198.80" r="1.95"/><circle cx="511.40" cy="1237.30" r="1.95"/><circle cx="519.50" cy="1237.30" r="1.95"/><circle cx="527.60" cy="1237.30" r="1.95"/><circle cx="535.70" cy="1237.30" r="1.95"/><circle cx="543.80" cy="1237.30" r="1.95"/><circle cx="551.90" cy="1237.30" r="1.95"/><circle cx="560.00" cy="1237.30" r="1.95"/><circle cx="568.10" cy="1237.30" r="1.95"/><circle cx="576.20" cy="1237.30" r="1.95"/><circle cx="584.30" cy="1237.30" r="1.95"/><circle cx="592.40" cy="1237.30" r="1.95"/><circle cx="600.50" cy="1237.30" r="1.95"/><circle cx="608.60" cy="1237.30" r="1.95"/><circle cx="616.70" cy="1237.30" r="1.95"/><circle cx="624.80" cy="1237.30" r="1.95"/><circle cx="632.90" cy="1237.30" r="1.95"/><circle cx="641.00" cy="1237.30" r="1.95"/><circle cx="649.10" cy="1237.30" r="1.95"/><circle cx="657.20" cy="1237.30" r="1.95"/><circle cx="665.30" cy="1237.30" r="1.95"/><circle cx="673.40" cy="1237.30" r="1.95"/><circle cx="681.50" cy="1237.30" r="1.95"/><circle cx="689.60" cy="1237.30" r="1.95"/><circle cx="697.70" cy="1237.30" r="1.95"/><circle cx="705.80" cy="1237.30" r="1.95"/><circle cx="713.90" cy="1237.30" r="1.95"/><circle cx="722.00" cy="1237.30" r="1.95"/><circle cx="730.10" cy="1237.30" r="1.95"/><circle cx="738.20" cy="1237.30" r="1.95"/><circle cx="511.40" cy="1275.80" r="1.95"/><circle cx="519.50" cy="1275.80" r="1.95"/><circle cx="527.60" cy="1275.80" r="1.95"/><circle cx="535.70" cy="1275.80" r="1.95"/><circle cx="543.80" cy="1275.80" r="1.95"/><circle cx="551.90" cy="1275.80" r="1.95"/><circle cx="560.00" cy="1275.80" r="1.95"/><circle cx="568.10" cy="1275.80" r="1.95"/><circle cx="576.20" cy="1275.80" r="1.95"/><circle cx="584.30" cy="1275.80" r="1.95"/><circle cx="592.40" cy="1275.80" r="1.95"/><circle cx="600.50" cy="1275.80" r="1.95"/><circle cx="608.60" cy="1275.80" r="1.95"/><circle cx="616.70" cy="1275.80" r="1.95"/><circle cx="624.80" cy="1275.80" r="1.95"/><circle cx="632.90" cy="1275.80" r="1.95"/><circle cx="641.00" cy="1275.80" r="1.95"/><circle cx="649.10" cy="1275.80" r="1.95"/><circle cx="657.20" cy="1275.80" r="1.95"/><circle cx="665.30" cy="1275.80" r="1.95"/><circle cx="673.40" cy="1275.80" r="1.95"/><circle cx="681.50" cy="1275.80" r="1.95"/><circle cx="689.60" cy="1275.80" r="1.95"/><circle cx="697.70" cy="1275.80" r="1.95"/><circle cx="705.80" cy="1275.80" r="1.95"/><circle cx="713.90" cy="1275.80" r="1.95"/><circle cx="722.00" cy="1275.80" r="1.95"/><circle cx="730.10" cy="1275.80" r="1.95"/><circle cx="738.20" cy="1275.80" r="1.95"/></g>
<g fill="#ff6600">
<circle cx="1251.8" cy="1165.2" r="86.5"/>
<circle cx="1251.8" cy="1165.2" r="75.3" fill="#fff"/>
<circle cx="1251.8" cy="1165.2" r="68.6"/>
<polygon points="1251.50,1114.50 1264.14,1151.31 1303.05,1151.95 1271.95,1175.34 1283.36,1212.55 1251.50,1190.20 1219.64,1212.55 1231.05,1175.34 1199.95,1151.95 1238.86,1151.31" fill="#fff"/>
<path d="M1185.3 1234.7 L1191.2 1239.4 L1191.2 1350 L1229.4 1329.4 L1229.4 1258.4 A96 96 0 0 0 1273.3 1258.4 L1273.3 1327.6 L1310.9 1350 L1310.9 1239.4 L1317 1234.7 L1317 1360 L1251.2 1322.4 L1185.3 1360 Z"/>
<rect x="886.3" y="1160.1" width="38.2" height="11.6"/>
<rect x="1076.8" y="1160.1" width="38.2" height="11.6"/>
</g>
</svg>
<div class="bl"></div><div class="br"></div><div class="bb"></div>
</body></html>
